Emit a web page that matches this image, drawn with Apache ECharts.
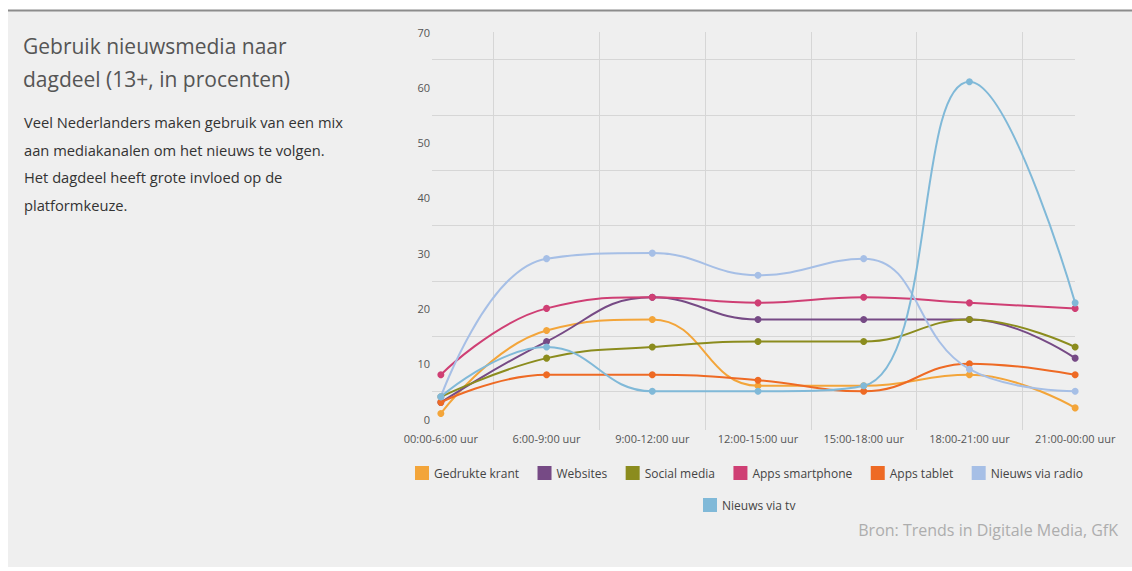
<!DOCTYPE html>
<html>
<head>
<meta charset="utf-8">
<script src="https://cdn.jsdelivr.net/npm/echarts@6/dist/echarts.min.js"></script>
<style>
html,body{margin:0;padding:0;background:#ffffff;}
#chart{width:1132px;height:571px;}
</style>
</head>
<body>
<div id="chart"></div>
<script>
const categories = ['00:00-6:00 uur','6:00-9:00 uur','9:00-12:00 uur','12:00-15:00 uur','15:00-18:00 uur','18:00-21:00 uur','21:00-00:00 uur'];
const gedrukteKrant = [1, 16, 18, 6, 6, 8, 2];
const websites = [3, 14, 22, 18, 18, 18, 11];
const socialMedia = [4, 11, 13, 14, 14, 18, 13];
const appsSmartphone = [8, 20, 22, 21, 22, 21, 20];
const appsTablet = [3, 8, 8, 7, 5, 10, 8];
const nieuwsRadio = [4, 29, 30, 26, 29, 9, 5];
const nieuwsTv = [4, 13, 5, 5, 6, 61, 21];
const yTicks = [0, 10, 20, 30, 40, 50, 60, 70];

const seriesDefs = [
  ['Gedrukte krant', gedrukteKrant, '#f3a53a'],
  ['Websites', websites, '#764a85'],
  ['Social media', socialMedia, '#8b8c1e'],
  ['Apps smartphone', appsSmartphone, '#cf3f74'],
  ['Apps tablet', appsTablet, '#ee6a24'],
  ['Nieuws via radio', nieuwsRadio, '#a6bfe6'],
  ['Nieuws via tv', nieuwsTv, '#80b9d8']
];

const FONT = '"Open Sans", sans-serif';
const chart = echarts.init(document.getElementById('chart'), null, {renderer: 'svg'});
const gridC = '#d6d6d6';

chart.setOption({
  animation: false,
  backgroundColor: '#ffffff',
  graphic: [
    {type: 'rect', z: -10, shape: {x: 8, y: 10, width: 1124, height: 557}, style: {fill: '#efefef'}},
    {type: 'line', z: -9, shape: {x1: 8, y1: 10.5, x2: 1132, y2: 10.5}, style: {stroke: '#8c8c8c', lineWidth: 2}}
  ],
  title: [
    {text: 'Gebruik nieuwsmedia naar\ndagdeel (13+, in procenten)', left: 23, top: 29, padding: 0,
     textStyle: {fontFamily: FONT, fontSize: 21, fontWeight: 'normal', color: '#555555', lineHeight: 33}},
    {text: 'Veel Nederlanders maken gebruik van een mix\naan mediakanalen om het nieuws te volgen.\nHet dagdeel heeft grote invloed op de\nplatformkeuze.', left: 24, top: 108, padding: 0,
     textStyle: {fontFamily: FONT, fontSize: 14.7, fontWeight: 'normal', color: '#333333', lineHeight: 27.7}},
    {text: 'Bron: Trends in Digitale Media, GfK', right: 14, top: 522, padding: 0,
     textStyle: {fontFamily: FONT, fontSize: 16, fontWeight: 'normal', color: '#adadad'}}
  ],
  legend: [
    {data: seriesDefs.slice(0, 6).map(d => d[0]), left: 415, top: 466, padding: 0, itemWidth: 14, itemHeight: 14, itemGap: 18.5, icon: 'rect',
     textStyle: {fontFamily: FONT, fontSize: 12, color: '#444444'}},
    {data: [seriesDefs[6][0]], left: 703, top: 498, padding: 0, itemWidth: 14, itemHeight: 14, icon: 'rect',
     textStyle: {fontFamily: FONT, fontSize: 12, color: '#444444'}}
  ],
  grid: [
    {left: 432, right: 57, top: 32, bottom: 152},
    {left: 388, right: 4, top: 32, bottom: 141}
  ],
  xAxis: [
    {gridIndex: 0, type: 'value', min: 0, max: 1, show: false},
    {gridIndex: 1, type: 'category', data: categories, boundaryGap: true,
     axisLine: {show: false}, axisTick: {show: false},
     axisLabel: {margin: 3, fontFamily: FONT, fontSize: 11, color: '#555555'},
     splitLine: {show: true, lineStyle: {width: 1, color: ['rgba(0,0,0,0)', gridC, gridC, gridC, gridC, gridC, gridC, 'rgba(0,0,0,0)']}}}
  ],
  yAxis: [
    {gridIndex: 0, type: 'value', min: yTicks[0], max: yTicks[yTicks.length - 1], interval: 10,
     axisLine: {show: false}, axisTick: {show: false},
     axisLabel: {margin: 2, fontFamily: FONT, fontSize: 11, color: '#555555'},
     splitLine: {show: false},
     minorTick: {show: false, splitNumber: 2},
     minorSplitLine: {show: true, lineStyle: {color: gridC, width: 1}}},
    {gridIndex: 1, type: 'value', min: -2, max: 70, show: false, splitLine: {show: false}}
  ],
  series: seriesDefs.map(d => ({
    name: d[0], type: 'line', data: d[1], xAxisIndex: 1, yAxisIndex: 1,
    smooth: 0.45, symbol: 'circle', symbolSize: 7, showSymbol: true,
    itemStyle: {color: d[2]}, lineStyle: {color: d[2], width: 2}
  }))
});
</script>
</body>
</html>
